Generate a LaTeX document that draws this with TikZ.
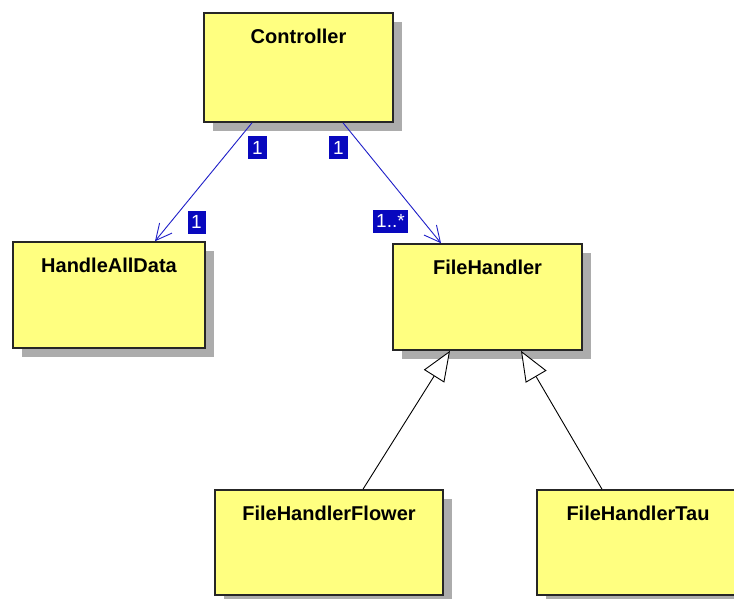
\documentclass[tikz,border=0pt]{standalone}
\usepackage{fontspec}
\setmainfont{Liberation Sans}
\usetikzlibrary{arrows.meta,shadows}

\definecolor{classfill}{RGB}{255,255,128}
\definecolor{shadowgray}{RGB}{172,172,172}
\definecolor{assocblue}{RGB}{30,30,200}
\definecolor{tagblue}{RGB}{8,8,190}

\tikzset{
  classbox/.style={rectangle, draw=black!85, line width=1.6pt, fill=classfill,
    inner sep=0pt,
    drop shadow={shadow xshift=9pt, shadow yshift=-9pt, fill=shadowgray, opacity=1}},
  classname/.style={anchor=base, inner sep=0pt,
    font=\fontsize{20}{24}\selectfont\bfseries},
  assoc/.style={draw=assocblue, line width=0.9pt,
    -{Straight Barb[length=16pt, width=16pt, line width=0.9pt]}},
  inherit/.style={draw=black, line width=0.9pt,
    -{Triangle[open, length=30pt, width=24pt, fill=white, line width=0.9pt]}},
  multtag/.style={rectangle, fill=tagblue, text=white, inner sep=0pt,
    minimum height=23pt, font=\fontsize{19}{21}\selectfont},
}

\begin{document}
\begin{tikzpicture}[x=1pt, y=-1pt]
  \useasboundingbox (0,0) rectangle (734,598);
  \clip (0,0) rectangle (734,598);
  \fill[white] (0,0) rectangle (734,598);

  % classes
  \node[classbox, minimum width=189pt, minimum height=109pt] (ctrl) at (298.5,67.5) {};
  \node[classname] (ctrlname) at ([yshift=-31pt]ctrl.north) {Controller};

  \node[classbox, minimum width=192pt, minimum height=106pt] (had) at (109,295) {};
  \node[classname] (hadname) at ([yshift=-31pt]had.north) {HandleAllData};

  \node[classbox, minimum width=189pt, minimum height=106pt] (fh) at (487.5,297) {};
  \node[classname] (fhname) at ([yshift=-31pt]fh.north) {FileHandler};

  \node[classbox, minimum width=228pt, minimum height=105pt] (fhf) at (329,542.5) {};
  \node[classname] (fhfname) at ([yshift=-31pt]fhf.north) {FileHandlerFlower};

  \node[classbox, minimum width=202pt, minimum height=105pt] (fht) at (638,542.5) {};
  \node[classname] (fhtname) at ([yshift=-31pt]fht.north) {FileHandlerTau};

  % associations
  \draw[assoc] ([xshift=-46.5pt]ctrl.south) -- ([xshift=46pt]had.north);
  \draw[assoc] ([xshift=44.5pt]ctrl.south) -- ([xshift=-46.5pt]fh.north);

  % multiplicities
  \node[multtag, minimum width=19pt] (m1) at (257.5,147.5) {1};
  \node[multtag, minimum width=19pt] (m2) at (338.5,147.5) {1};
  \node[multtag, minimum width=18pt] (m3) at (196.5,222) {1};
  \node[multtag, minimum width=35pt] (m4) at (390.5,221) {1..*};

  % generalisations
  \draw[inherit] ([xshift=34pt]fhf.north) -- ([xshift=-37.5pt]fh.south);
  \draw[inherit] ([xshift=-36pt]fht.north) -- ([xshift=33.5pt]fh.south);
\end{tikzpicture}
\end{document}
